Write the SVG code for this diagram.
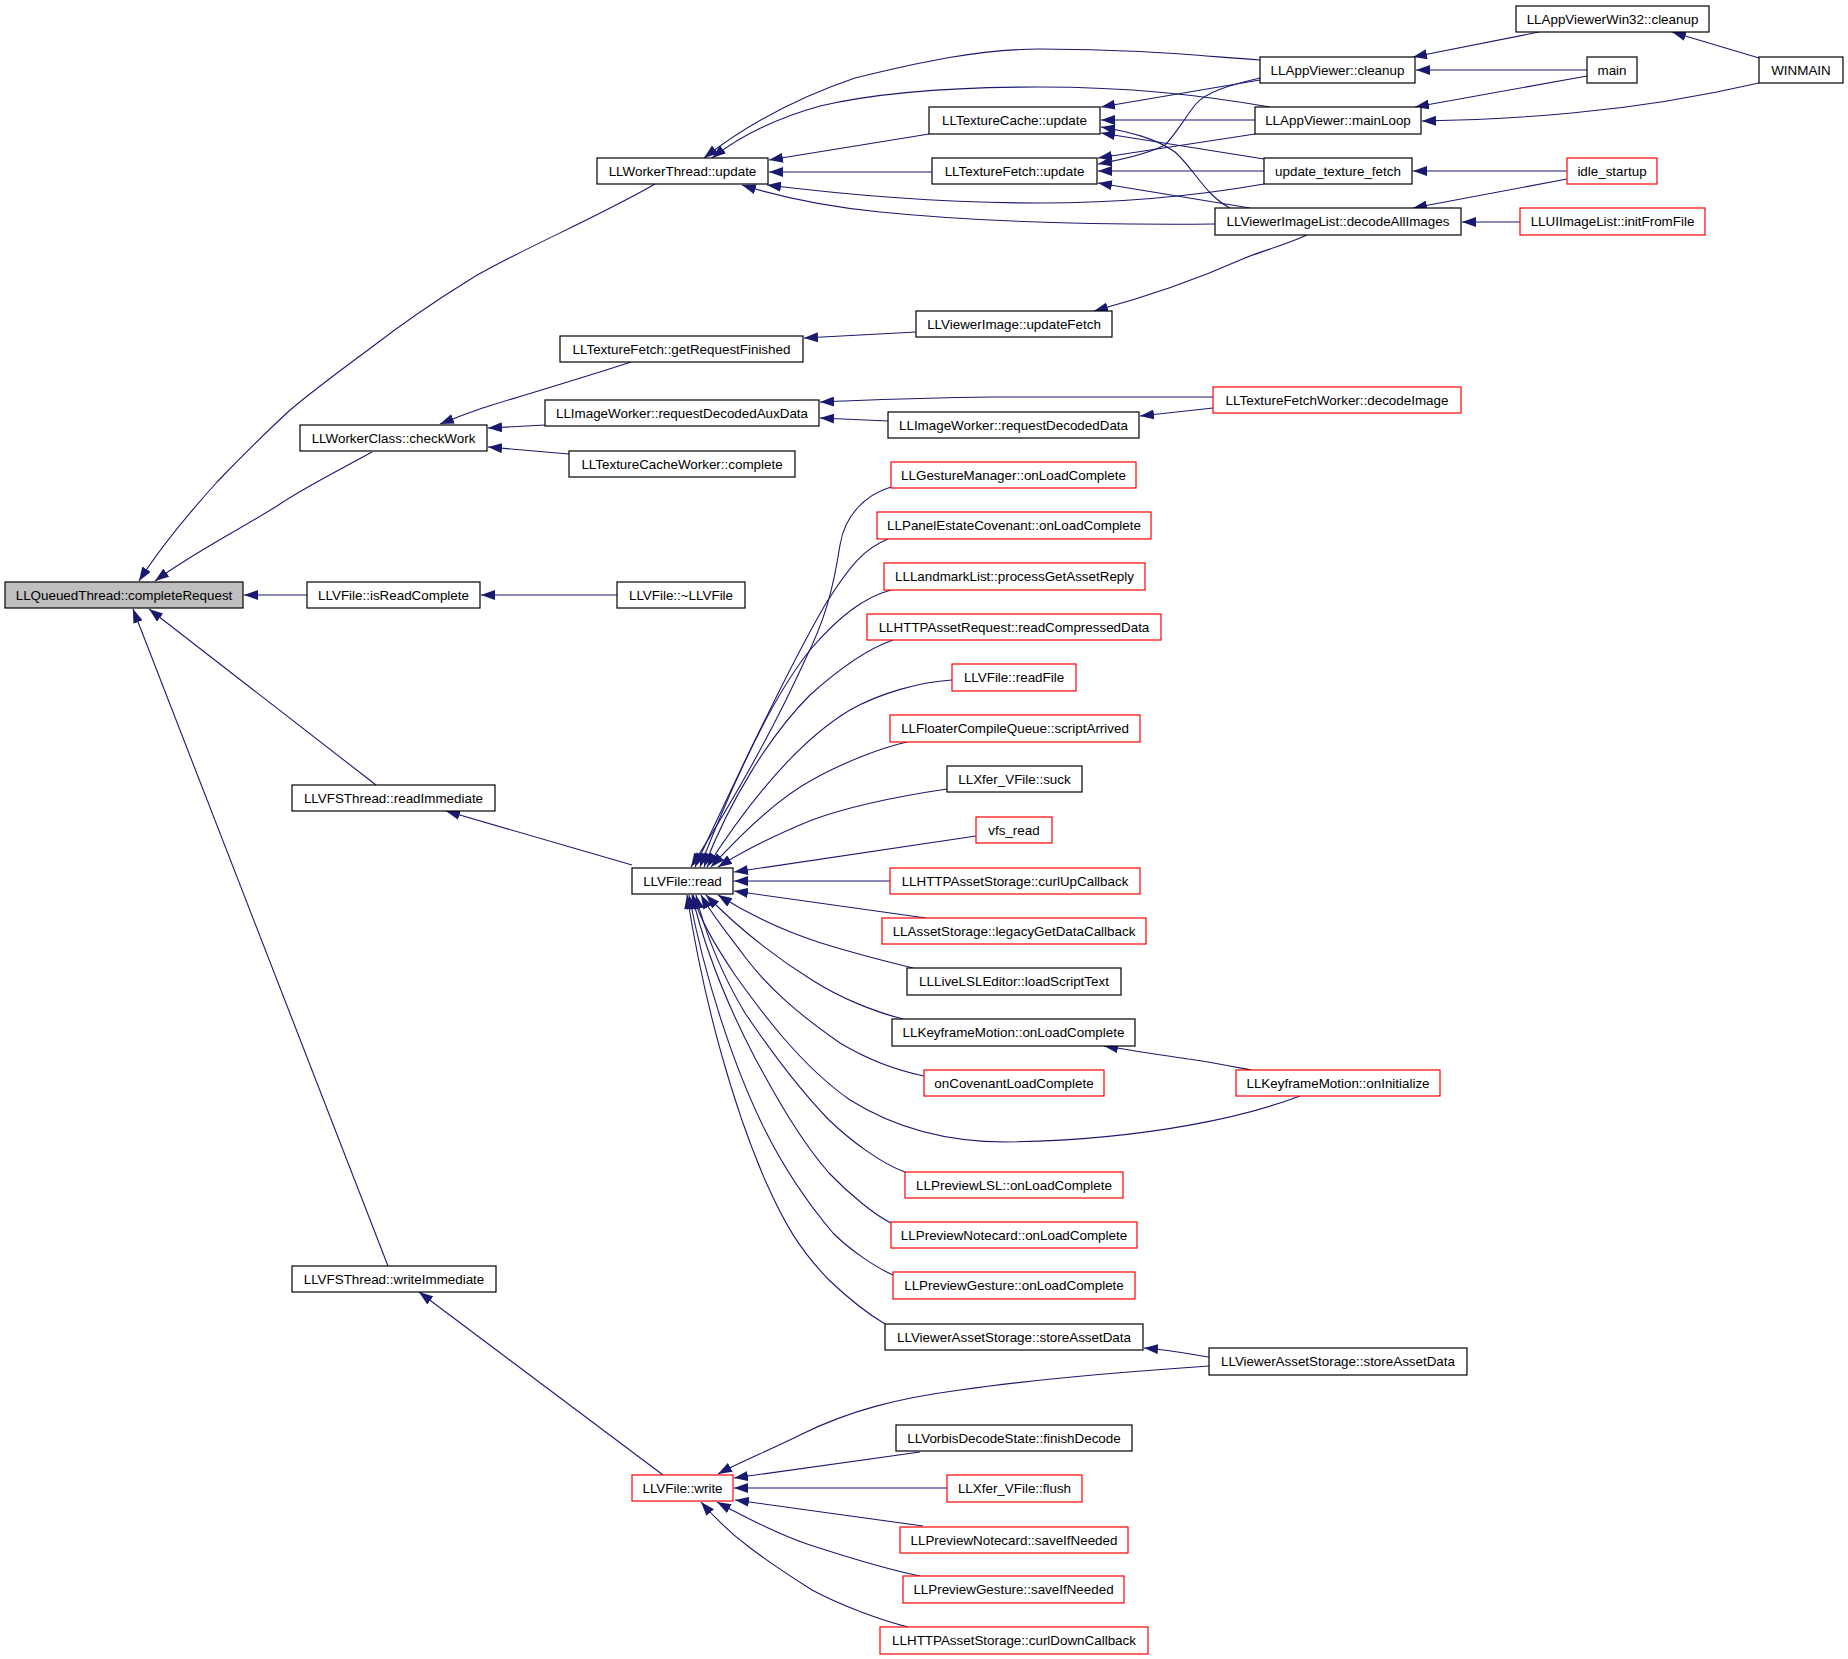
<svg xmlns="http://www.w3.org/2000/svg" width="1848" height="1659" viewBox="0 0 1848 1659">
<defs>
<marker id="ah" markerUnits="userSpaceOnUse" markerWidth="14" markerHeight="10" refX="14" refY="5" orient="auto">
<path d="M0,0 L14,5 L0,10 Z" fill="#191970"/>
</marker>
<style>
.node rect{fill:#ffffff;stroke:#000000;stroke-width:1.2}
.node.red rect{stroke:#ff0000}
.node.root rect{fill:#bfbfbf}
.node text{font-family:"Liberation Sans",Arial,Helvetica,sans-serif;font-size:13.4px;fill:#000000;text-anchor:middle}
#edges path{fill:none;stroke:#191970;stroke-width:1.1;marker-end:url(#ah)}
</style>
</defs>
<rect x="0" y="0" width="1848" height="1659" fill="#ffffff"/>
<g id="edges">
<path d="M655,184 C600,216 520,250 474,277 C420,310 390,333 368,350 C330,378 310,393 289,411 C262,436 240,458 217,482 C190,512 160,548 139,581"/>
<path d="M372,452 C330,475 300,490 277,506 C230,535 190,555 155,581"/>
<path d="M307,595 L244,595"/>
<path d="M376,785 L149,609"/>
<path d="M388,1266 L133,609"/>
<path d="M929,134 L769,160"/>
<path d="M932,172 L769,172"/>
<path d="M1260,60 C1200,56 1140,49 1040,49 C980,49 920,62 855,78 C790,100 740,130 704,158"/>
<path d="M1270,107 C1200,95 1130,87 1040,87 C960,87 880,92 820,106 C770,120 735,140 712,158"/>
<path d="M1264,184 C1190,197 1120,203 1040,203 C940,203 840,194 767,185"/>
<path d="M1215,224 C1100,225 980,222 880,212 C820,206 780,197 742,185"/>
<path d="M1260,80 L1101,107"/>
<path d="M1255,120 L1101,120"/>
<path d="M1230,208 C1205,195 1195,170 1175,152 C1155,138 1130,132 1101,127"/>
<path d="M1264,159 L1101,133"/>
<path d="M1260,78 C1230,85 1205,92 1195,105 C1180,125 1175,135 1165,145 C1145,155 1120,160 1098,164"/>
<path d="M1255,134 L1098,158"/>
<path d="M1264,171 L1098,171"/>
<path d="M1250,208 L1098,183"/>
<path d="M1539,32 L1413,57"/>
<path d="M1587,70 L1416,70"/>
<path d="M1587,76 L1415,107"/>
<path d="M1759,58 L1672,32"/>
<path d="M1759,83 C1720,92 1650,106 1572,113 C1520,118 1470,120 1422,121"/>
<path d="M1567,171 L1413,171"/>
<path d="M1567,179 L1413,208"/>
<path d="M1520,222 L1462,222"/>
<path d="M1307,235 C1285,245 1265,250 1245,258 C1200,278 1150,296 1094,311"/>
<path d="M916,332 L804,338"/>
<path d="M631,362 C570,382 520,396 486,407 C470,412 455,418 440,424"/>
<path d="M545,425 L488,428"/>
<path d="M569,454 L488,447"/>
<path d="M1213,397 L993,397 C900,398 850,401 820,402"/>
<path d="M888,421 L820,418"/>
<path d="M1213,408 L1140,416"/>
<path d="M617,595 L481,595"/>
<path d="M632,865 L446,811"/>
<path d="M663,1475 L419,1292"/>
<path d="M891,487 C865,495 845,515 840,545 C833,590 825,620 805,660 C780,715 740,790 691,867"/>
<path d="M888,539 C865,548 850,565 825,605 C790,665 740,770 695,867"/>
<path d="M891,590 C865,597 840,615 810,650 C770,700 730,790 700,867"/>
<path d="M893,640 C870,648 840,668 810,695 C770,735 730,800 704,867"/>
<path d="M952,680 C920,682 880,693 850,710 C800,740 750,800 707,867"/>
<path d="M907,742 C880,748 840,764 812,780 C780,797 745,830 711,867"/>
<path d="M947,789 C900,796 850,806 812,820 C775,835 745,850 718,867"/>
<path d="M976,836 L734,872"/>
<path d="M890,881 L734,881"/>
<path d="M926,918 L734,891"/>
<path d="M913,968 C880,960 850,952 821,943 C780,930 745,912 718,895"/>
<path d="M903,1019 C875,1012 840,998 812,980 C780,960 740,930 706,895"/>
<path d="M924,1076 C895,1070 865,1058 840,1043 C800,1015 770,990 745,957 C725,930 712,915 701,895"/>
<path d="M1300,1096 C1250,1115 1150,1140 1006,1142 C940,1142 890,1125 850,1100 C800,1065 760,1010 735,975 C715,945 700,920 693,895"/>
<path d="M905,1172 C880,1163 850,1140 829,1120 C800,1090 770,1050 745,1013 C725,980 705,935 696,895"/>
<path d="M891,1223 C875,1215 850,1195 829,1173 C800,1140 775,1095 755,1058 C730,1010 705,950 692,895"/>
<path d="M893,1275 C875,1267 850,1250 833,1233 C805,1200 785,1170 765,1130 C735,1070 705,980 689,895"/>
<path d="M885,1324 C870,1315 850,1300 829,1280 C800,1250 785,1225 765,1180 C735,1110 705,1010 687,895"/>
<path d="M1251,1070 C1230,1066 1200,1060 1188,1059 C1160,1055 1130,1050 1104,1046"/>
<path d="M1209,1357 C1190,1354 1170,1350 1144,1348"/>
<path d="M1209,1366 C1150,1370 1044,1378 960,1390 C900,1398 850,1410 800,1435 C770,1450 740,1462 718,1474"/>
<path d="M920,1452 L734,1478"/>
<path d="M947,1488 L734,1488"/>
<path d="M923,1526 L735,1500"/>
<path d="M920,1576 C890,1570 850,1558 810,1545 C780,1535 750,1520 717,1502"/>
<path d="M908,1627 C880,1620 840,1605 812,1590 C790,1576 770,1563 749,1547 C730,1533 715,1518 701,1502"/>
</g>
<g id="complete" class="node root"><rect x="5" y="582" width="238" height="26"/><text x="124" y="599.5">LLQueuedThread::completeRequest</text></g>
<g id="workerthread" class="node"><rect x="597" y="158" width="171" height="26"/><text x="682.5" y="175.5">LLWorkerThread::update</text></g>
<g id="checkwork" class="node"><rect x="300" y="425" width="187" height="26"/><text x="393.5" y="442.5">LLWorkerClass::checkWork</text></g>
<g id="isreadcomplete" class="node"><rect x="307" y="582" width="173" height="26"/><text x="393.5" y="599.5">LLVFile::isReadComplete</text></g>
<g id="readimm" class="node"><rect x="292" y="785" width="203" height="26"/><text x="393.5" y="802.5">LLVFSThread::readImmediate</text></g>
<g id="writeimm" class="node"><rect x="292" y="1266" width="204" height="26"/><text x="394" y="1283.5">LLVFSThread::writeImmediate</text></g>
<g id="texcache" class="node"><rect x="929" y="107" width="171" height="27"/><text x="1014.5" y="125">LLTextureCache::update</text></g>
<g id="texfetch" class="node"><rect x="932" y="158" width="165" height="26"/><text x="1014.5" y="175.5">LLTextureFetch::update</text></g>
<g id="getreq" class="node"><rect x="560" y="336" width="243" height="26"/><text x="681.5" y="353.5">LLTextureFetch::getRequestFinished</text></g>
<g id="auxdata" class="node"><rect x="545" y="400" width="274" height="26"/><text x="682" y="417.5">LLImageWorker::requestDecodedAuxData</text></g>
<g id="cacheworker" class="node"><rect x="569" y="451" width="226" height="26"/><text x="682" y="468.5">LLTextureCacheWorker::complete</text></g>
<g id="dtor" class="node"><rect x="617" y="582" width="128" height="26"/><text x="681" y="599.5">LLVFile::~LLVFile</text></g>
<g id="read" class="node"><rect x="632" y="868" width="101" height="26"/><text x="682.5" y="885.5">LLVFile::read</text></g>
<g id="write" class="node red"><rect x="632" y="1475" width="101" height="26"/><text x="682.5" y="1492.5">LLVFile::write</text></g>
<g id="updatefetch" class="node"><rect x="916" y="311" width="196" height="26"/><text x="1014" y="328.5">LLViewerImage::updateFetch</text></g>
<g id="decodeddata" class="node"><rect x="888" y="412" width="251" height="26"/><text x="1013.5" y="429.5">LLImageWorker::requestDecodedData</text></g>
<g id="appcleanup" class="node"><rect x="1260" y="57" width="155" height="26"/><text x="1337.5" y="74.5">LLAppViewer::cleanup</text></g>
<g id="mainloop" class="node"><rect x="1255" y="107" width="166" height="27"/><text x="1338" y="125">LLAppViewer::mainLoop</text></g>
<g id="utf" class="node"><rect x="1264" y="158" width="148" height="26"/><text x="1338" y="175.5">update_texture_fetch</text></g>
<g id="decodeall" class="node"><rect x="1215" y="208" width="246" height="27"/><text x="1338" y="226">LLViewerImageList::decodeAllImages</text></g>
<g id="decodeimage" class="node red"><rect x="1213" y="387" width="248" height="26"/><text x="1337" y="404.5">LLTextureFetchWorker::decodeImage</text></g>
<g id="win32cleanup" class="node"><rect x="1516" y="6" width="193" height="26"/><text x="1612.5" y="23.5">LLAppViewerWin32::cleanup</text></g>
<g id="main" class="node"><rect x="1587" y="57" width="50" height="26"/><text x="1612" y="74.5">main</text></g>
<g id="winmain" class="node"><rect x="1759" y="57" width="84" height="26"/><text x="1801" y="74.5">WINMAIN</text></g>
<g id="idle" class="node red"><rect x="1567" y="158" width="90" height="26"/><text x="1612" y="175.5">idle_startup</text></g>
<g id="initfromfile" class="node red"><rect x="1520" y="208" width="185" height="27"/><text x="1612.5" y="226">LLUIImageList::initFromFile</text></g>
<g id="gesture" class="node red"><rect x="891" y="462" width="245" height="26"/><text x="1013.5" y="479.5">LLGestureManager::onLoadComplete</text></g>
<g id="panel" class="node red"><rect x="877" y="512" width="274" height="27"/><text x="1014" y="530">LLPanelEstateCovenant::onLoadComplete</text></g>
<g id="landmark" class="node red"><rect x="884" y="563" width="261" height="27"/><text x="1014.5" y="581">LLLandmarkList::processGetAssetReply</text></g>
<g id="httpreq" class="node red"><rect x="867" y="614" width="294" height="26"/><text x="1014" y="631.5">LLHTTPAssetRequest::readCompressedData</text></g>
<g id="readfile" class="node red"><rect x="952" y="664" width="124" height="27"/><text x="1014" y="682">LLVFile::readFile</text></g>
<g id="floater" class="node red"><rect x="890" y="715" width="250" height="27"/><text x="1015" y="733">LLFloaterCompileQueue::scriptArrived</text></g>
<g id="suck" class="node"><rect x="947" y="766" width="135" height="26"/><text x="1014.5" y="783.5">LLXfer_VFile::suck</text></g>
<g id="vfsread" class="node red"><rect x="976" y="817" width="76" height="26"/><text x="1014" y="834.5">vfs_read</text></g>
<g id="curlup" class="node red"><rect x="890" y="868" width="250" height="26"/><text x="1015" y="885.5">LLHTTPAssetStorage::curlUpCallback</text></g>
<g id="legacy" class="node red"><rect x="882" y="918" width="264" height="26"/><text x="1014" y="935.5">LLAssetStorage::legacyGetDataCallback</text></g>
<g id="livelsl" class="node"><rect x="907" y="968" width="214" height="27"/><text x="1014" y="986">LLLiveLSLEditor::loadScriptText</text></g>
<g id="kfload" class="node"><rect x="892" y="1019" width="243" height="27"/><text x="1013.5" y="1037">LLKeyframeMotion::onLoadComplete</text></g>
<g id="oncov" class="node red"><rect x="924" y="1070" width="180" height="26"/><text x="1014" y="1087.5">onCovenantLoadComplete</text></g>
<g id="oninit" class="node red"><rect x="1236" y="1070" width="204" height="26"/><text x="1338" y="1087.5">LLKeyframeMotion::onInitialize</text></g>
<g id="prevlsl" class="node red"><rect x="905" y="1172" width="218" height="26"/><text x="1014" y="1189.5">LLPreviewLSL::onLoadComplete</text></g>
<g id="prevnote" class="node red"><rect x="891" y="1222" width="246" height="26"/><text x="1014" y="1239.5">LLPreviewNotecard::onLoadComplete</text></g>
<g id="prevgest" class="node red"><rect x="893" y="1272" width="242" height="27"/><text x="1014" y="1290">LLPreviewGesture::onLoadComplete</text></g>
<g id="vas1" class="node"><rect x="885" y="1324" width="258" height="26"/><text x="1014" y="1341.5">LLViewerAssetStorage::storeAssetData</text></g>
<g id="vas2" class="node"><rect x="1209" y="1348" width="258" height="27"/><text x="1338" y="1366">LLViewerAssetStorage::storeAssetData</text></g>
<g id="finish" class="node"><rect x="896" y="1425" width="236" height="26"/><text x="1014" y="1442.5">LLVorbisDecodeState::finishDecode</text></g>
<g id="flush" class="node red"><rect x="947" y="1475" width="135" height="27"/><text x="1014.5" y="1493">LLXfer_VFile::flush</text></g>
<g id="savenote" class="node red"><rect x="900" y="1527" width="228" height="26"/><text x="1014" y="1544.5">LLPreviewNotecard::saveIfNeeded</text></g>
<g id="savegest" class="node red"><rect x="903" y="1576" width="221" height="27"/><text x="1013.5" y="1594">LLPreviewGesture::saveIfNeeded</text></g>
<g id="curldown" class="node red"><rect x="880" y="1627" width="268" height="27"/><text x="1014" y="1645">LLHTTPAssetStorage::curlDownCallback</text></g>
</svg>
